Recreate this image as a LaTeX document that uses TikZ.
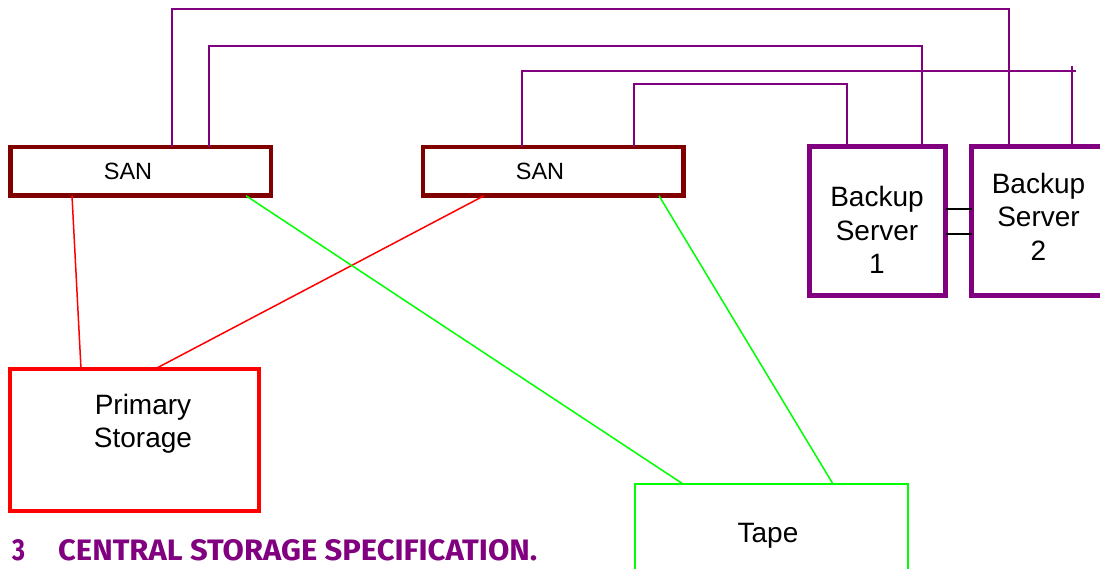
\documentclass[tikz,border=0pt]{standalone}
\usepackage{fontspec}
\setmainfont{Liberation Sans}
\newfontfamily\headfont{Fira Sans}
\definecolor{purp}{HTML}{800080}
\definecolor{sanc}{HTML}{800000}
\definecolor{primc}{HTML}{FF0000}
\definecolor{tapec}{HTML}{00FF00}
\begin{document}
\begin{tikzpicture}[x=1pt,y=-1pt,
  box/.style={draw, rectangle, outer sep=0pt, inner sep=0pt},
  sanbox/.style={box, draw=sanc, line width=4.5pt, minimum width=260.5pt, minimum height=48.5pt},
  bsbox/.style={box, draw=purp, line width=5pt, minimum width=136pt, minimum height=149pt},
  primbox/.style={box, draw=primc, line width=4.5pt, minimum width=249pt, minimum height=142pt},
  tapebox/.style={box, draw=tapec, line width=2pt, minimum width=273pt, minimum height=140pt},
  smalltxt/.style={font=\fontsize{23.5}{27}\selectfont, inner sep=0pt},
  bigtxt/.style={font=\fontsize{28}{33.5}\selectfont, align=center, inner sep=0pt},
  pline/.style={draw=purp, line width=2pt},
  rline/.style={draw=primc, line width=1.5pt},
  gline/.style={draw=tapec, line width=1.5pt},
  kline/.style={draw=black, line width=1.5pt},
  head/.style={inner sep=0pt, text=purp, font=\headfont\bfseries}
]
\useasboundingbox (0,0) rectangle (1100,569);
% boxes
\node[sanbox] (san1) at (140.5,171.5) {};
\node[sanbox] (san2) at (553,171.5) {};
\node[bsbox] (bs1) at (877.5,221) {};
\node[bsbox] (bs2) at (1039.5,221) {};
\node[primbox] (prim) at (134.5,440) {};
\node[tapebox] (tape) at (771.5,554) {};
% texts
\node[smalltxt] (san1t) at (128,171) {SAN};
\node[smalltxt] (san2t) at (540,171) {SAN};
\node[bigtxt] (bs1t) at (877,230) {Backup\\Server\\1};
\node[bigtxt] (bs2t) at (1038.5,216.5) {Backup\\Server\\2};
\node[bigtxt] (primt) at (143,424) {Primary\\Storage};
\node[bigtxt] (tapet) at (768,536) {Tape};
% heading
\node[head, anchor=base west] (hnum) at (12,560) {\resizebox{13pt}{21pt}{3}};
\node[head, anchor=base west] (htxt) at (58,560) {\resizebox{479pt}{21pt}{CENTRAL STORAGE SPECIFICATION.}};
% red connectors
\draw[rline] (san1.south -| 72,0) -- (prim.north -| 81,0);
\draw[rline] (san2.south -| 484,0) -- (prim.north -| 155,0);
% green connectors
\draw[gline] (san1.south -| 246,0) -- (tape.north -| 683,0);
\draw[gline] (san2.south -| 659,0) -- (tape.north -| 833,0);
% purple connectors
\coordinate (p1) at (1009,9);
\coordinate (p2) at (922,46);
\coordinate (p3) at (1076,71);
\coordinate (p3v) at (1072,66);
\coordinate (p4) at (847,84);
\draw[pline] (san1.north -| 172,0) |- (p1) -- (bs2.north -| p1);
\draw[pline] (san1.north -| 209,0) |- (p2) -- (bs1.north -| p2);
\draw[pline] (san2.north -| 522,0) |- (p3);
\draw[pline] (p3v) -- (bs2.north -| p3v);
\draw[pline] (san2.north -| 634,0) |- (p4) -- (bs1.north -| p4);
% black links
\draw[kline] (bs1.east |- 0,209) -- (bs2.west |- 0,209);
\draw[kline] (bs1.east |- 0,234) -- (bs2.west |- 0,234);
\end{tikzpicture}
\end{document}
